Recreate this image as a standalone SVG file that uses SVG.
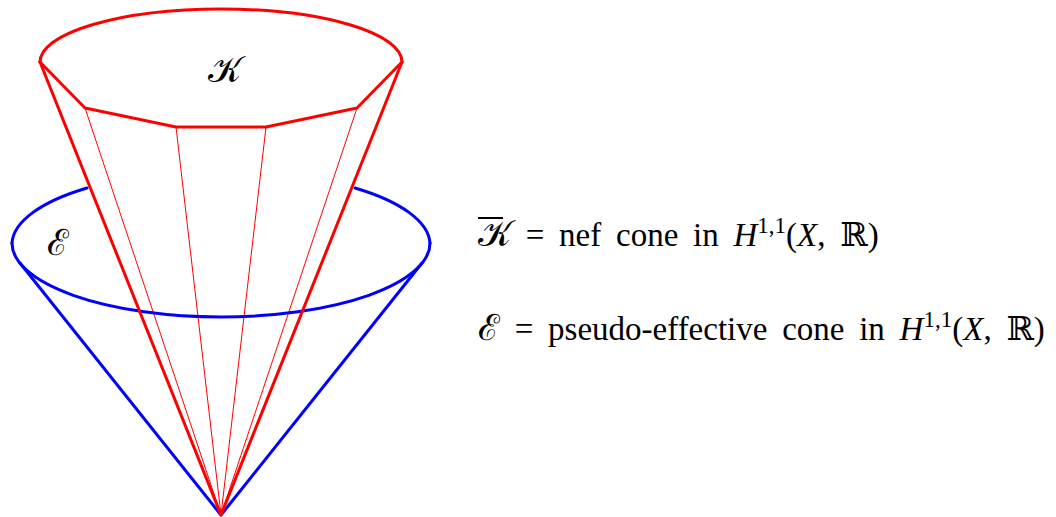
<svg xmlns="http://www.w3.org/2000/svg" width="1056" height="517" viewBox="0 0 1056 517">
<style>
.thick{fill:none;stroke-width:3;stroke-linejoin:round;stroke-linecap:round}
.red{stroke:#ff0000}
.blue{stroke:#0000ff}
.thin{fill:none;stroke:#ff0000;stroke-width:1}
.t{font-family:"Liberation Serif","DejaVu Serif",serif;font-size:33px;fill:#000;word-spacing:6.5px}
.cal{font-family:"Liberation Serif","DejaVu Serif",serif;font-size:36px;fill:#000}
.it{font-style:italic}
</style>
<rect width="1056" height="517" fill="#fff"/>
<g id="connectors">
<line class="thin" x1="221" y1="515" x2="85" y2="108"/>
<line class="thin" x1="221" y1="515" x2="176" y2="127"/>
<line class="thin" x1="221" y1="515" x2="266" y2="127"/>
<line class="thin" x1="221" y1="515" x2="357" y2="108"/>
</g>
<g id="pseff-cone">
<path class="thick blue" d="M20,263 L221,515 L422,263"/>
<path class="thick blue" d="M12,243 A209,74 0 0 0 430,243"/>
<path class="thick blue" d="M12,243 A209,74 0 0 1 87,188"/>
<path class="thick blue" d="M355,188 A209,74 0 0 1 430,243"/>
</g>
<g id="nef-cone">
<path class="thick red" d="M40,62 A181,53 0 0 1 402,62"/>
<path class="thick red" d="M40,62 L85,108 L176,127 L266,127 L357,108 L402,62"/>
<path class="thick red" d="M40,62 L221,515 L402,62"/>
</g>
<g id="labels">
<text class="cal" x="224" y="82" text-anchor="middle">𝒦</text>
<text class="cal" x="58" y="255" text-anchor="middle">ℰ</text>
</g>
<g id="legend">
<text class="t" x="478" y="246"><tspan font-size="36">𝒦</tspan> = nef cone in <tspan class="it">H</tspan><tspan font-size="23" dy="-13">1,1</tspan><tspan dy="13">(</tspan><tspan class="it">X</tspan>, ℝ)</text>
<line x1="478" y1="218" x2="503" y2="218" stroke="#000" stroke-width="2"/>
<text class="t" x="478" y="340"><tspan font-size="36">ℰ</tspan> = pseudo-effective cone in <tspan class="it">H</tspan><tspan font-size="23" dy="-13">1,1</tspan><tspan dy="13">(</tspan><tspan class="it">X</tspan>, ℝ)</text>
</g>
</svg>
